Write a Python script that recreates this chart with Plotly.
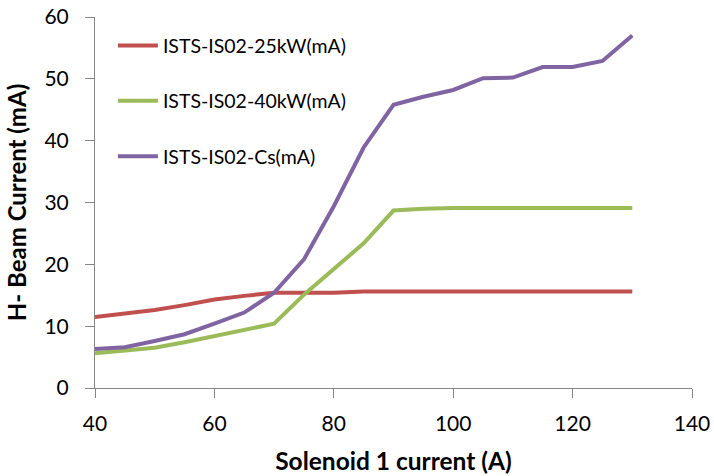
import plotly.graph_objects as go

# Solenoid 1 current (A)
solenoid_current = [40, 45, 50, 55, 60, 65, 70, 75, 80, 85, 90, 95, 100, 105, 110, 115, 120, 125, 130]

# H- beam current (mA) per ion source configuration
beam_25kw = [11.5, 12.0, 12.6, 13.4, 14.3, 14.9, 15.4, 15.4, 15.4, 15.6, 15.6, 15.6, 15.6, 15.6, 15.6, 15.6, 15.6, 15.6, 15.6]
beam_40kw = [5.6, 6.0, 6.5, 7.4, 8.4, 9.5, 10.4, 15.1, 19.2, 23.4, 28.7, 29.0, 29.1, 29.1, 29.1, 29.1, 29.1, 29.1, 29.1]
beam_cs = [6.3, 6.6, 7.6, 8.7, 10.4, 12.2, 15.4, 20.8, 29.4, 38.9, 45.8, 47.1, 48.2, 50.1, 50.2, 51.9, 51.9, 52.9, 57.0]

series_names = ["ISTS-IS02-25kW(mA)", "ISTS-IS02-40kW(mA)", "ISTS-IS02-Cs(mA)"]
series_values = [beam_25kw, beam_40kw, beam_cs]
series_colors = ["#C0504D", "#9BBB59", "#8064A2"]

x_ticks = [40, 60, 80, 100, 120, 140]
y_ticks = [0, 10, 20, 30, 40, 50, 60]

font_family = "Lato, 'Open Sans', sans-serif"

fig = go.Figure()
for i, (name, vals, col) in enumerate(zip(series_names, series_values, series_colors)):
    fig.add_trace(go.Scatter(
        x=solenoid_current, y=vals, name=name, mode="lines",
        line=dict(color=col, width=4),
        legendgroup=f"g{i}",
    ))

axis_common = dict(
    showline=True, linecolor="#868686", linewidth=1,
    ticks="outside", ticklen=9, tickcolor="#868686",
    showgrid=False, zeroline=False, automargin=False,
    tickfont=dict(family=font_family, size=21, color="#000000"),
)

fig.update_layout(
    width=714, height=476,
    margin=dict(l=95, r=22, t=17, b=88),
    paper_bgcolor="white", plot_bgcolor="white",
    xaxis=dict(
        range=[40, 140], tickvals=x_ticks, ticklabelstandoff=8,
        title=dict(text="<b>Solenoid 1 current (A)</b>", standoff=18,
                   font=dict(family=font_family, size=24.5, color="#000000")),
        **axis_common,
    ),
    yaxis=dict(
        range=[0, 60], tickvals=y_ticks, ticklabelstandoff=12,
        title=dict(text="<b>H- Beam Current (mA)</b>", standoff=11,
                   font=dict(family=font_family, size=24, color="#000000")),
        **axis_common,
    ),
    legend=dict(
        x=0.03, y=0.975, xanchor="left", yanchor="top",
        font=dict(family=font_family, size=19.5, color="#000000"),
        tracegroupgap=27, itemwidth=40,
        bgcolor="rgba(0,0,0,0)",
    ),
    showlegend=True,
)

fig.write_html("out.html")
